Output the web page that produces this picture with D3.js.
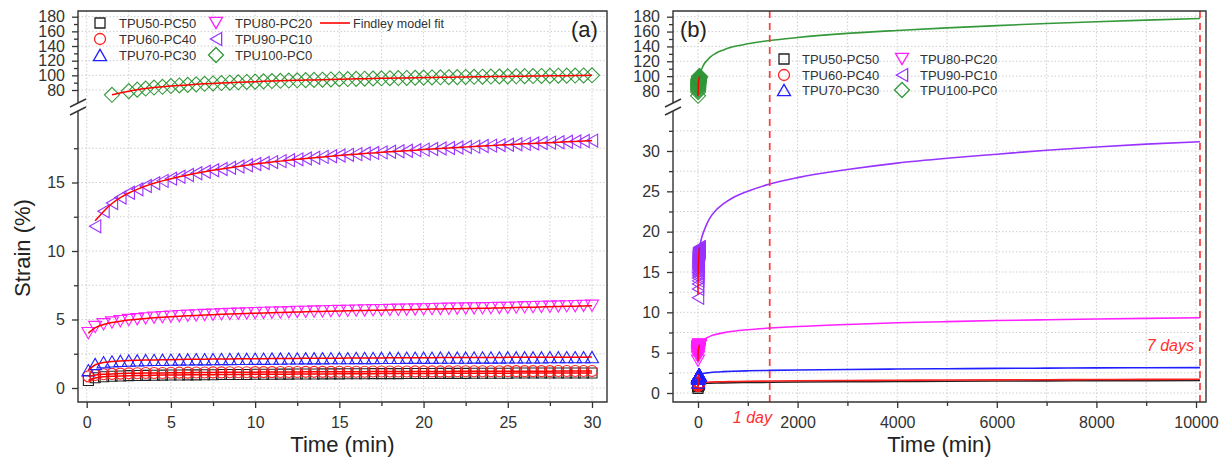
<!DOCTYPE html>
<html>
<head>
<meta charset="utf-8">
<script src="https://cdn.jsdelivr.net/npm/d3@7"></script>
<style>
  body { margin: 0; background: #fff; }
  svg { display: block; }
  text { font-family: "Liberation Sans", Arial, sans-serif; fill: #222; }
</style>
</head>
<body>
<div class="chart"></div>
<script>
// time (min) of the short creep test, panel (a) and the stacked markers of (b)
const timeShort = [0.1, 0.5, 1, 1.5, 2, 2.5, 3, 3.5, 4, 4.5, 5,
  5.5, 6, 6.5, 7, 7.5, 8, 8.5, 9, 9.5, 10,
  10.5, 11, 11.5, 12, 12.5, 13, 13.5, 14, 14.5, 15,
  15.5, 16, 16.5, 17, 17.5, 18, 18.5, 19, 19.5, 20,
  20.5, 21, 21.5, 22, 22.5, 23, 23.5, 24, 24.5, 25,
  25.5, 26, 26.5, 27, 27.5, 28, 28.5, 29, 29.5, 30];

const strainTPU50 = [0.55, 0.75, 0.82, 0.86, 0.88, 0.9, 0.91, 0.92, 0.93, 0.94, 0.95,
  0.95, 0.96, 0.96, 0.97, 0.97, 0.98, 0.98, 0.99, 0.99, 1.0,
  1.0, 1.0, 1.01, 1.01, 1.02, 1.02, 1.02, 1.03, 1.03, 1.03,
  1.04, 1.04, 1.04, 1.05, 1.05, 1.05, 1.05, 1.06, 1.06, 1.06,
  1.06, 1.07, 1.07, 1.07, 1.07, 1.08, 1.08, 1.08, 1.08, 1.08,
  1.09, 1.09, 1.09, 1.09, 1.09, 1.1, 1.1, 1.1, 1.1, 1.1];
const strainTPU60 = [0.85, 0.95, 1.0, 1.03, 1.05, 1.07, 1.08, 1.09, 1.1, 1.1, 1.11,
  1.12, 1.12, 1.13, 1.13, 1.14, 1.14, 1.15, 1.15, 1.15, 1.16,
  1.16, 1.16, 1.17, 1.17, 1.17, 1.18, 1.18, 1.18, 1.18, 1.19,
  1.19, 1.19, 1.19, 1.2, 1.2, 1.2, 1.2, 1.2, 1.21, 1.21,
  1.21, 1.21, 1.21, 1.22, 1.22, 1.22, 1.22, 1.22, 1.22, 1.23,
  1.23, 1.23, 1.23, 1.23, 1.23, 1.24, 1.24, 1.24, 1.24, 1.24];
const strainTPU70 = [1.3, 1.75, 1.88, 1.94, 1.98, 2.0, 2.02, 2.04, 2.05, 2.06, 2.07,
  2.08, 2.09, 2.1, 2.1, 2.11, 2.12, 2.12, 2.13, 2.13, 2.14,
  2.14, 2.15, 2.15, 2.16, 2.16, 2.17, 2.17, 2.17, 2.18, 2.18,
  2.18, 2.19, 2.19, 2.19, 2.2, 2.2, 2.2, 2.21, 2.21, 2.21,
  2.21, 2.22, 2.22, 2.22, 2.22, 2.23, 2.23, 2.23, 2.23, 2.24,
  2.24, 2.24, 2.24, 2.24, 2.25, 2.25, 2.25, 2.25, 2.25, 2.26];
const strainTPU80 = [4.0, 4.45, 4.65, 4.78, 4.88, 4.96, 5.02, 5.08, 5.13, 5.17, 5.21,
  5.24, 5.27, 5.3, 5.33, 5.35, 5.38, 5.4, 5.42, 5.44, 5.46,
  5.48, 5.5, 5.51, 5.53, 5.55, 5.56, 5.58, 5.59, 5.61, 5.62,
  5.63, 5.65, 5.66, 5.67, 5.68, 5.69, 5.71, 5.72, 5.73, 5.74,
  5.76, 5.77, 5.78, 5.79, 5.8, 5.81, 5.82, 5.83, 5.84, 5.85,
  5.87, 5.89, 5.9, 5.92, 5.93, 5.95, 5.96, 5.97, 5.99, 6.0];
const strainTPU90 = [null, 11.8, 12.9, 13.5, 13.9, 14.25, 14.5, 14.75, 14.95, 15.12, 15.28,
  15.42, 15.55, 15.67, 15.78, 15.89, 15.99, 16.08, 16.17, 16.26, 16.35,
  16.42, 16.49, 16.56, 16.63, 16.69, 16.75, 16.81, 16.87, 16.92, 16.97,
  17.02, 17.07, 17.12, 17.16, 17.2, 17.24, 17.28, 17.32, 17.36, 17.4,
  17.44, 17.48, 17.52, 17.55, 17.59, 17.62, 17.66, 17.69, 17.73, 17.76,
  17.79, 17.82, 17.85, 17.88, 17.91, 17.94, 17.97, 18.0, 18.03, 18.06];
const strainTPU100 = [null, null, null, 73.5, null, 78.5, 80.5, 82, 83.3, 84.4, 85.4,
  86.2, 87, 87.7, 88.4, 89, 89.5, 90, 90.5, 91, 91.4,
  91.8, 92.2, 92.6, 92.9, 93.2, 93.5, 93.8, 94.1, 94.4, 94.7,
  94.9, 95.2, 95.4, 95.7, 95.9, 96.1, 96.3, 96.5, 96.7, 96.9,
  97.1, 97.3, 97.5, 97.6, 97.8, 98, 98.1, 98.3, 98.4, 98.6,
  98.7, 98.9, 99, 99.2, 99.3, 99.5, 99.6, 99.7, 99.9, 100];

// long-term Findley curves of panel (b)
const timeLong = [30, 45, 60, 90, 120, 180, 250, 350, 500, 700, 1000, 1440,
  2000, 3000, 4000, 5000, 6000, 7000, 8000, 9000, 10080];
const longTPU50 = [1.1, 1.12, 1.14, 1.16, 1.18, 1.2, 1.22, 1.24, 1.26, 1.28, 1.3, 1.33,
  1.36, 1.4, 1.43, 1.46, 1.48, 1.5, 1.52, 1.54, 1.56];
const longTPU60 = [1.24, 1.26, 1.28, 1.3, 1.32, 1.34, 1.36, 1.38, 1.4, 1.42, 1.45, 1.48,
  1.51, 1.55, 1.58, 1.61, 1.63, 1.65, 1.67, 1.69, 1.71];
const longTPU70 = [2.26, 2.3, 2.35, 2.4, 2.45, 2.5, 2.55, 2.6, 2.65, 2.7, 2.75, 2.8,
  2.85, 2.92, 2.97, 3.01, 3.05, 3.08, 3.11, 3.13, 3.15];
const longTPU80 = [6.0, 6.15, 6.3, 6.5, 6.65, 6.85, 7.05, 7.25, 7.45, 7.65, 7.85, 8.05,
  8.25, 8.5, 8.7, 8.85, 8.98, 9.08, 9.17, 9.25, 9.32];
const longTPU90 = [18.06, 18.5, 18.9, 19.6, 20.1, 21.0, 21.8, 22.6, 23.4, 24.2, 25.0, 25.9,
  26.7, 27.7, 28.5, 29.1, 29.6, 30.1, 30.5, 30.85, 31.15];
const longTPU100 = [100, 104, 107, 112, 116, 121, 126, 130.5, 135, 139.5, 143.5, 148,
  152, 157.5, 161.5, 165, 168, 170.8, 173.2, 175.4, 177.5];

const seriesNames = ['TPU50-PC50', 'TPU60-PC40', 'TPU70-PC30', 'TPU80-PC20', 'TPU90-PC10', 'TPU100-PC0'];
const seriesColors = ['#222222', '#ff2020', '#2020ff', '#ff20ff', '#9933ff', '#33993a'];
const seriesShapes = ['square', 'circle', 'up', 'down', 'left', 'diamond'];
const shortValues = [strainTPU50, strainTPU60, strainTPU70, strainTPU80, strainTPU90, strainTPU100];
const longValues = [longTPU50, longTPU60, longTPU70, longTPU80, longTPU90, longTPU100];

const fitColor = '#ff0000';
const W = 1219, H = 465;

const svg = d3.select('.chart').append('svg').attr('width', W).attr('height', H);

function markerPath(shape) {
  const a = 13, h = 11.3, s = 5, d = 7.5;
  if (shape === 'square') return `M${-s},${-s}H${s}V${s}H${-s}Z`;
  if (shape === 'circle') return d3.symbol(d3.symbolCircle, Math.PI * 5.5 * 5.5)();
  if (shape === 'up') return `M0,${-h / 2}L${a / 2},${h / 2}L${-a / 2},${h / 2}Z`;
  if (shape === 'down') return `M0,${h / 2}L${a / 2},${-h / 2}L${-a / 2},${-h / 2}Z`;
  if (shape === 'left') return `M${-h / 2},0L${h / 2},${-a / 2}L${h / 2},${a / 2}Z`;
  return `M0,${-d}L${d},0L0,${d}L${-d},0Z`;
}

function makePanel(cfg) {
  const g = svg.append('g');
  const x = d3.scaleLinear().domain(cfg.xDom).range(cfg.xRange);
  const yLow = d3.scaleLinear().domain(cfg.lowDom).range(cfg.lowRange);
  const yUp = d3.scaleLinear().domain([80, 180]).range(cfg.upRange);
  const yOf = (i, v) => (i === 5 ? yUp(v) : yLow(v));

  // grid
  const grid = g.append('g').attr('stroke', '#cfcfcf').attr('stroke-width', 1)
    .attr('stroke-dasharray', '1.5,2');
  grid.selectAll('.gx').data(cfg.xGrid).join('line')
    .attr('x1', d => x(d)).attr('x2', d => x(d))
    .attr('y1', cfg.top).attr('y2', cfg.bottom);
  grid.selectAll('.gl').data(cfg.lowGrid).join('line')
    .attr('x1', cfg.left).attr('x2', cfg.right)
    .attr('y1', d => yLow(d)).attr('y2', d => yLow(d));
  grid.selectAll('.gu').data([80, 100, 120, 140, 160, 180]).join('line')
    .attr('x1', cfg.left).attr('x2', cfg.right)
    .attr('y1', d => yUp(d)).attr('y2', d => yUp(d));

  // long-term curves (panel b)
  if (cfg.long) {
    longValues.forEach((vals, i) => {
      const pts = timeLong.map((t, k) => [t, vals[k]]);
      g.append('path')
        .attr('d', d3.line().x(d => x(d[0])).y(d => yOf(i, d[1])).curve(d3.curveMonotoneX)(pts))
        .attr('fill', 'none').attr('stroke', seriesColors[i]).attr('stroke-width', 1.6);
    });
  }

  // markers
  shortValues.forEach((vals, i) => {
    const pts = timeShort.map((t, k) => [t, vals[k]]).filter(d => d[1] != null);
    g.append('g').selectAll('path').data(pts).join('path')
      .attr('d', markerPath(seriesShapes[i]))
      .attr('transform', d => `translate(${x(d[0])},${yOf(i, d[1])})`)
      .attr('fill', 'none').attr('stroke', seriesColors[i]).attr('stroke-width', 1.1);
  });

  // Findley fit lines over the markers
  shortValues.forEach((vals, i) => {
    const pts = timeShort.map((t, k) => [t, vals[k]]).filter(d => d[1] != null);
    const fit = i === 4 ? pts.map(d => [d[0], d[1] + (d[0] < 0.6 ? 0.4 : 0)]) : pts;
    g.append('path')
      .attr('d', d3.line().x(d => x(d[0])).y(d => yOf(i, d[1])).curve(d3.curveBasis)(fit))
      .attr('fill', 'none').attr('stroke', fitColor).attr('stroke-width', 1.5);
  });

  // dashed day markers
  if (cfg.days) {
    cfg.days.forEach(dd => {
      g.append('line').attr('x1', x(dd.t)).attr('x2', x(dd.t))
        .attr('y1', cfg.top).attr('y2', cfg.bottom)
        .attr('stroke', '#ff3838').attr('stroke-width', 1.7).attr('stroke-dasharray', '7,5');
      g.append('text').attr('x', dd.tx).attr('y', dd.ty).attr('text-anchor', 'end')
        .style('font-size', '16px').style('font-style', 'italic').style('fill', '#ff3030')
        .text(dd.label);
    });
  }

  // axes
  const fontTick = '16px';
  const xAxis = g.append('g').attr('transform', `translate(0,${cfg.bottom})`)
    .call(d3.axisBottom(x).tickValues(cfg.xTicks).tickSize(6).tickPadding(9).tickFormat(d3.format('d')));
  g.append('g').attr('transform', `translate(0,${cfg.bottom})`)
    .call(d3.axisBottom(x).tickValues(cfg.xMinor).tickSize(4).tickFormat(''));
  const lowAxis = g.append('g').attr('transform', `translate(${cfg.left},0)`)
    .call(d3.axisLeft(yLow).tickValues(cfg.lowTicks).tickSize(6).tickPadding(7).tickFormat(d3.format('d')));
  g.append('g').attr('transform', `translate(${cfg.left},0)`)
    .call(d3.axisLeft(yLow).tickValues(cfg.lowMinor).tickSize(4).tickFormat(''));
  const upAxis = g.append('g').attr('transform', `translate(${cfg.left},0)`)
    .call(d3.axisLeft(yUp).tickValues([80, 100, 120, 140, 160, 180]).tickSize(6).tickPadding(7));
  g.append('g').attr('transform', `translate(${cfg.left},0)`)
    .call(d3.axisLeft(yUp).tickValues([90, 110, 130, 150, 170]).tickSize(4).tickFormat(''));
  g.selectAll('.domain').remove();
  g.selectAll('.tick line').attr('stroke', '#333').attr('stroke-width', 1.3);
  [xAxis, lowAxis, upAxis].forEach(a => a.selectAll('text').style('font-size', fontTick).style('fill', '#333'));

  // frame with the axis break on the left side
  const bt = cfg.breakY - 4, bb = cfg.breakY + 4;
  g.append('path')
    .attr('d', `M${cfg.left},${bt}V${cfg.top}H${cfg.right}V${cfg.bottom}H${cfg.left}V${bb}`)
    .attr('fill', 'none').attr('stroke', '#333').attr('stroke-width', 1.4);
  [bt, bb].forEach(yy => {
    g.append('line').attr('x1', cfg.left - 8).attr('y1', yy + 4)
      .attr('x2', cfg.left + 8).attr('y2', yy - 4)
      .attr('stroke', '#333').attr('stroke-width', 1.4);
  });

  // panel tag
  g.append('text').attr('x', cfg.tag.x).attr('y', cfg.tag.y)
    .style('font-size', '22px').text(cfg.tag.text);

  // x label
  g.append('text').attr('x', (cfg.left + cfg.right) / 2).attr('y', 452)
    .attr('text-anchor', 'middle').style('font-size', '22px').text('Time (min)');

  // legend
  const lg = g.append('g');
  seriesNames.forEach((name, i) => {
    const col = Math.floor(i / 3), row = i % 3;
    const sx = cfg.legend.x[col], sy = cfg.legend.y[row];
    lg.append('path').attr('d', markerPath(seriesShapes[i]))
      .attr('transform', `translate(${sx},${sy})`)
      .attr('fill', 'none').attr('stroke', seriesColors[i]).attr('stroke-width', 1.3);
    lg.append('text').attr('x', sx + cfg.legend.gap).attr('y', sy + 4.5)
      .style('font-size', '13px').style('fill', '#333').text(name);
  });
  if (cfg.legend.fit) {
    const f = cfg.legend.fit;
    lg.append('line').attr('x1', f.x).attr('x2', f.x + 30).attr('y1', f.y).attr('y2', f.y)
      .attr('stroke', fitColor).attr('stroke-width', 1.6);
    lg.append('text').attr('x', f.x + 33).attr('y', f.y + 4.5)
      .style('font-size', '12.5px').style('fill', '#333').text('Findley model fit');
  }
}

makePanel({
  left: 78, right: 607, top: 11, bottom: 402, breakY: 107,
  xDom: [0, 30], xRange: [86.7, 592],
  lowDom: [0, 15], lowRange: [388, 182.5],
  upRange: [90, 16.7],
  xTicks: [0, 5, 10, 15, 20, 25, 30],
  xMinor: [2.5, 7.5, 12.5, 17.5, 22.5, 27.5],
  xGrid: [0, 2.5, 5, 7.5, 10, 12.5, 15, 17.5, 20, 22.5, 25, 27.5, 30],
  lowTicks: [0, 5, 10, 15],
  lowMinor: [2.5, 7.5, 12.5, 17.5],
  lowGrid: [0, 2.5, 5, 7.5, 10, 12.5, 15, 17.5],
  long: false,
  tag: { x: 571, y: 37, text: '(a)' },
  legend: { x: [100, 216], y: [23, 39, 55], gap: 19, fit: { x: 320, y: 23 } }
});

makePanel({
  left: 673, right: 1206, top: 11, bottom: 402, breakY: 107,
  xDom: [0, 10000], xRange: [698, 1196],
  lowDom: [0, 30], lowRange: [393, 151],
  upRange: [91, 16.7],
  xTicks: [0, 2000, 4000, 6000, 8000, 10000],
  xMinor: [1000, 3000, 5000, 7000, 9000],
  xGrid: [0, 1000, 2000, 3000, 4000, 5000, 6000, 7000, 8000, 9000, 10000],
  lowTicks: [0, 5, 10, 15, 20, 25, 30],
  lowMinor: [2.5, 7.5, 12.5, 17.5, 22.5, 27.5, 32.5],
  lowGrid: [0, 2.5, 5, 7.5, 10, 12.5, 15, 17.5, 20, 22.5, 25, 27.5, 30, 32.5],
  long: true,
  days: [
    { t: 1440, label: '1 day', tx: 772, ty: 423 },
    { t: 10080, label: '7 days', tx: 1194, ty: 351 }
  ],
  tag: { x: 680, y: 37, text: '(b)' },
  legend: { x: [784, 902], y: [59, 75, 90], gap: 18 }
});

// y label
svg.append('text').attr('transform', 'translate(30,248) rotate(-90)')
  .attr('text-anchor', 'middle').style('font-size', '22px').text('Strain (%)');
</script>
</body>
</html>
